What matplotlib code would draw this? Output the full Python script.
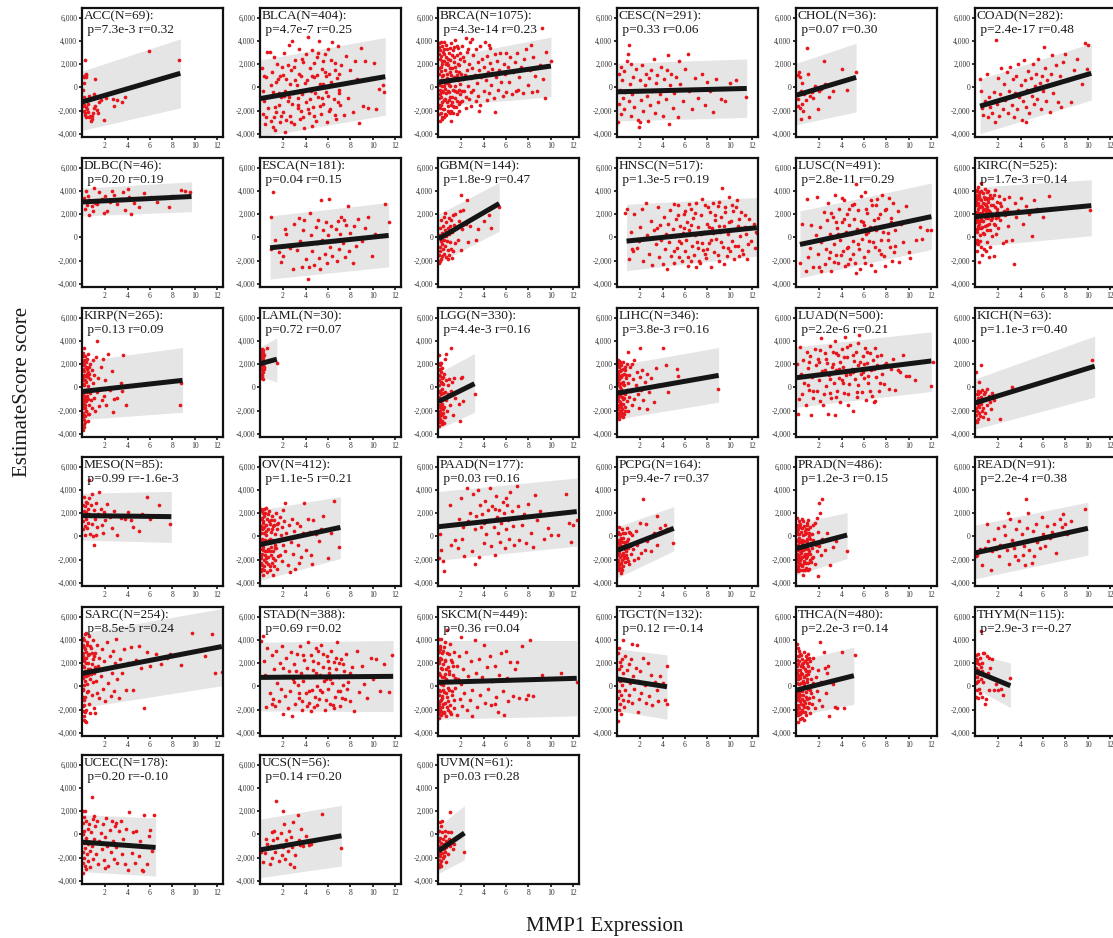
import matplotlib
matplotlib.use("Agg")
import matplotlib.pyplot as plt

# 33 cancer types, MMP1 expression vs EstimateScore
cancers = ["ACC", "BLCA", "BRCA", "CESC", "CHOL", "COAD",
           "DLBC", "ESCA", "GBM", "HNSC", "LUSC", "KIRC",
           "KIRP", "LAML", "LGG", "LIHC", "LUAD", "KICH",
           "MESO", "OV", "PAAD", "PCPG", "PRAD", "READ",
           "SARC", "STAD", "SKCM", "TGCT", "THCA", "THYM",
           "UCEC", "UCS", "UVM"]
n_samples = [69, 404, 1075, 291, 36, 282, 46, 181, 144, 517, 491, 525,
             265, 30, 330, 346, 500, 63, 85, 412, 177, 164, 486, 91,
             254, 388, 449, 132, 480, 115, 178, 56, 61]
p_vals = ["7.3e-3", "4.7e-7", "4.3e-14", "0.33", "0.07", "2.4e-17",
          "0.20", "0.04", "1.8e-9", "1.3e-5", "2.8e-11", "1.7e-3",
          "0.13", "0.72", "4.4e-3", "3.8e-3", "2.2e-6", "1.1e-3",
          "0.99", "1.1e-5", "0.03", "9.4e-7", "1.2e-3", "2.2e-4",
          "8.5e-5", "0.69", "0.36", "0.12", "2.2e-3", "2.9e-3",
          "0.20", "0.14", "0.03"]
r_vals = ["0.32", "0.25", "0.23", "0.06", "0.30", "0.48",
          "0.19", "0.15", "0.47", "0.19", "0.29", "0.14",
          "0.09", "0.07", "0.16", "0.16", "0.21", "0.40",
          "-1.6e-3", "0.21", "0.16", "0.37", "0.15", "0.38",
          "0.24", "0.02", "0.04", "-0.14", "0.14", "-0.27",
          "-0.10", "0.20", "0.28"]

# fitted line and prediction band at the two ends of each fit
fit_x0 = [0, 0, 0, 0, 0, 0.4, 0, 0.85, 0, 0.8, 0.3, 0,
          0, 0, 0, 0, 0, 0, 0, 0, 0, 0, 0, 0,
          0, 0, 0, 0, 0, 0, 0, 0, 0]
fit_x1 = [8.7, 11.1, 10.0, 11.5, 5.3, 10.3, 9.7, 11.4, 5.4, 12.4, 12.0, 10.3,
          8.9, 1.45, 3.2, 9.0, 12.0, 10.6, 7.9, 7.1, 12.3, 5.0, 4.5, 10.0,
          12.4, 11.8, 12.3, 4.4, 5.1, 3.1, 6.5, 7.2, 2.3]
fit_y0 = [-1250, -960, 450, -380, -670, -1620, 3070, -900, -120, -320, -610, 1800,
          -350, 2060, -1220, -490, 840, -1330, 1800, -700, 840, -1190, -1040, -1420,
          1130, 780, 350, 640, -320, 1300, -670, -1330, -1420]
fit_y1 = [1220, 930, 1850, -90, 870, 1220, 3540, 170, 2930, 840, 1800, 2750,
          610, 2440, 320, 1040, 2290, 1830, 1710, 780, 2150, 700, 120, 700,
          3450, 870, 700, -30, 930, 60, -1130, -120, 120]
band_lo0 = [-3710, -4290, -1650, -2900, -3220, -4000, 1860, -3600, -2200, -2870, -3500, -800,
            -2780, 950, -3600, -2730, -1710, -3600, -320, -3800, -2060, -3570, -3360, -3650,
            -1830, -2120, -2840, -2120, -2550, -200, -3220, -3740, -3360]
band_lo1 = [-1770, -2400, -810, -2600, -2120, -1100, 2230, -2550, 550, -1620, -1040, 150,
            -2150, 460, -2150, -1280, -350, -840, -520, -1910, -840, -1250, -1910, -1620,
            60, -2180, -2550, -2840, -1540, -1830, -3600, -2730, -2200]
band_hi0 = [1420, 2380, 2500, 2090, 2090, 725, 4260, 1860, 2000, 2870, 2290, 4350,
            2290, 3500, 1250, 1910, 3510, 750, 3740, 2290, 3890, 840, 1130, 990,
            4610, 3830, 3970, 3250, 2230, 2810, 1710, 1330, 700]
band_hi1 = [4200, 4320, 4350, 2460, 3830, 3830, 4810, 3020, 4760, 3450, 4700, 4990,
            3450, 4290, 2930, 3450, 4810, 4440, 3890, 3450, 5050, 2580, 2060, 2960,
            6730, 3970, 3970, 2730, 3390, 2030, 1420, 2520, 2490]

# samples (expression, score)
acc_pts = [(0.2,2380),(0.3,1150),(0.15,1000),(0.35,900),(0.1,400),(0.05,-250),(0.1,-800),(0.2,-1000),
           (0.15,-1500),(0.3,-1700),(0.1,-2000),(0.25,-2250),(0.4,-1850),(0.5,-2100),(0.3,-2550),(0.6,-2600),
           (0.8,-2750),(0.75,-2900),(0.85,-2450),(1.0,-1800),(1.1,-1600),(1.3,-1950),(1.5,-1300),(1.4,-2200),
           (1.9,-2850),(1.0,-550),(1.1,700),(1.6,-1050),(2.1,-900),(2.7,-1000),(2.8,-1650),(3.1,-1100),
           (3.5,-1250),(3.8,-850),(5.9,3190),(8.6,2380),(0.6,-700),(0.45,-1000),(0.2,-2350),(0.05,-1600),
           (0.5,-1400),(0.9,-2200),(0.1,900),(0.3,1050),(0.7,-2500)]
blca_pts = [(0.1,1700),(0.2,-300),(0.3,-1200),(0.2,-2300),(0.4,-3200),(0.5,900),(0.6,3100),(0.8,3100),
            (0.7,-1800),(0.9,-2900),(1.0,1300),(1.1,-400),(1.2,-2600),(1.3,-3700),(1.4,500),(1.5,2000),
            (1.6,-1500),(1.7,-3000),(1.8,-800),(1.9,1800),(2.0,-2100),(2.1,3000),(2.2,-3900),(2.3,700),
            (2.4,-1200),(2.5,3700),(2.6,-2500),(2.7,1500),(2.8,4000),(2.9,-500),(3.0,-3200),(3.1,2400),
            (3.2,200),(3.3,-1800),(3.4,3300),(3.5,-2700),(3.6,1000),(3.7,-600),(3.8,2200),(3.9,-3500),
            (4.0,-1300),(4.1,600),(4.2,4400),(4.3,-2200),(4.4,1700),(4.5,-300),(4.6,3200),(4.7,-1700),
            (4.8,900),(4.9,-2900),(5.0,2600),(5.1,-800),(5.2,4000),(5.3,300),(5.4,-2300),(5.5,1600),
            (5.6,-1400),(5.7,2900),(5.8,-400),(5.9,-3000),(6.0,3300),(6.1,1200),(6.2,-1900),(6.3,500),
            (6.4,3900),(6.5,-1000),(6.6,2100),(6.7,-2700),(6.8,800),(6.9,3600),(7.0,-200),(7.1,-1500),
            (7.2,1900),(7.4,-2400),(7.5,400),(7.6,2700),(7.8,-900),(8.0,1500),(8.2,-2100),(8.4,2300),
            (8.6,700),(8.8,-3100),(8.9,3400),(9.1,-1600),(9.3,2300),(9.6,-1800),(10.1,2100),(10.3,-1900),
            (10.5,-100),(10.9,200),(11.0,-400),(9.8,800),(0.5,-2600),(0.9,200),(1.2,2600),(1.6,-500),
            (2.0,1100),(2.3,-2800),(2.6,300),(3.0,1800),(3.3,-900),(3.6,-2000),(4.0,2900),(4.3,-100),
            (4.6,-3300),(5.0,1100),(5.3,-1600),(5.6,300),(6.0,-700),(6.3,2400),(6.6,-2400),(7.0,1200),
            (1.4,-2100),(2.8,-1400),(4.8,2100),(5.8,1000),(3.8,-2600),(1.1,-3400),(2.1,-700),(4.4,-1000),
            (6.9,-1300),(0.3,1000)]
blca_more = [(1.25,-1700),(1.55,700),(1.85,-2500),(2.15,-300),(2.45,1900),(2.75,-3000),(3.05,600),(3.35,-1500),
             (3.65,2500),(3.95,400),(4.25,-1900),(4.55,1000),(4.85,-500),(5.15,3000),(5.45,-900),(5.75,1300),
             (6.05,-2000),(6.35,200),(6.65,1500),(6.95,-500),(2.55,-800),(3.45,1200),(4.75,-2500),(5.55,2300),
             (1.75,1000)]
brca_pts = [(0.05,3800),(0.1,2500),(0.05,1200),(0.1,-200),(0.05,-1500),(0.1,-2900),(0.15,3200),(0.2,1800),
            (0.2,600),(0.25,-800),(0.2,-2200),(0.3,3600),(0.3,2300),(0.35,100),(0.3,-1300),(0.35,-2700),
            (0.4,1100),(0.45,2900),(0.4,-400),(0.5,-1900),(0.5,3300),(0.55,1500),(0.6,-1000),(0.6,400),
            (0.65,2600),(0.7,-2400),(0.7,3700),(0.75,800),(0.8,-300),(0.8,1900),(0.85,-1600),(0.9,3000),
            (0.9,200),(0.95,-2100),(1.0,1300),(1.0,-800),(1.05,2400),(1.1,3800),(1.1,-2900),(1.15,600),
            (1.2,-1300),(1.2,1700),(1.25,-200),(1.3,3200),(1.3,-2200),(1.35,900),(1.4,-1700),(1.4,2200),
            (1.45,100),(1.5,4100),(1.5,-900),(1.55,1400),(1.6,-2300),(1.6,2800),(1.65,-400),(1.7,600),
            (1.75,3400),(1.8,-1400),(1.8,1900),(1.85,-2000),(1.9,300),(1.9,2500),(1.95,-600),(2.0,1200),
            (0.15,-600),(0.25,1400),(0.45,-2600),(0.55,-100),(0.75,2100),(0.95,-1100),(1.15,-2000),(1.35,3500),
            (1.65,1100),(1.05,-2200),(2.1,3600),(2.1,-1200),(2.2,700),(2.3,2300),(2.3,-300),(2.4,-1800),
            (2.5,1500),(2.5,3100),(2.6,100),(2.7,-1000),(2.7,2000),(2.8,3900),(2.9,800),(2.9,-1600),
            (3.0,1700),(3.1,-200),(3.1,2800),(3.2,1100),(3.3,-1200),(3.3,3300),(3.4,400),(3.5,2200),
            (3.5,-700),(3.6,1500),(3.7,3600),(3.7,-1500),(3.8,900),(3.9,2500),(4.0,-300),(4.0,1800),
            (4.1,3900),(4.2,600),(4.3,-1100),(4.3,2700),(4.4,1300),(4.5,-500),(4.6,2100),(4.6,3400),
            (4.7,200),(4.8,1600),(4.9,-900),(5.0,2900),(5.0,-2100),(5.1,900),(5.2,2300),(5.3,-200),
            (5.4,1500),(5.5,3000),(5.6,500),(5.7,-700),(5.8,2000),(5.9,1200),(6.0,3000),(6.0,-400),
            (2.4,4300),(3.0,4200),(3.6,-2000),(4.5,3700),(6.2,1800),(6.3,500),(6.4,2600),(6.5,-600),
            (6.6,1300),(6.8,2200),(6.9,-300),(7.0,3000),(7.2,900),(7.3,1800),(7.5,-500),(7.6,2500),
            (7.8,3300),(8.0,200),(8.1,1500),(8.3,-400),(8.4,2600),(8.6,1000),(8.8,-300),(9.0,1900),
            (9.2,5100),(9.3,700),(9.5,-900),(9.6,3100),(10.0,2300),(8.2,3700),(7.1,-200)]
brca_more = [(0.02,2900),(0.02,500),(0.02,-2300),(0.08,3500),(0.08,1700),(0.08,-900),(0.12,200),(0.12,-1800),
             (0.18,2700),(0.18,-400),(0.22,3900),(0.22,-1500),(0.28,1000),(0.28,-2600),(0.32,2000),(0.32,-300),
             (0.38,3100),(0.38,-1900),(0.42,600),(0.48,2300),(0.48,-1100),(0.52,3900),(0.52,100),(0.58,-2300),
             (0.62,2000),(0.68,-500),(0.72,1200),(0.78,3300),(0.78,-1300),(0.82,400),(0.88,2500),(0.88,-2000),
             (0.92,-400),(0.98,1700),(1.02,3400),(1.02,100),(1.08,-1500),(1.12,1100),(1.18,2800),(1.22,-800),
             (1.28,700),(1.32,-1600),(1.38,2600),(1.42,-300),(1.48,1800),(1.52,-1700),(1.58,900),(1.62,3600),
             (1.68,-1200),(1.72,2000),(1.78,-200),(1.82,1300),(1.88,3000),(1.92,-1300),(2.05,-300),(2.15,2600),
             (2.35,1100),(2.45,-800),(2.65,3300),(2.85,-400)]
cesc_pts = [(0.0,-3000),(0.1,1200),(0.1,-1400),(0.2,-200),(0.3,1800),(0.3,-2300),(0.4,600),(0.5,-900),
            (0.6,1400),(0.6,-1900),(0.7,-400),(0.8,2300),(0.9,2900),(1.0,3700),(1.0,-1200),(1.1,300),
            (1.2,2000),(1.2,-2500),(1.3,-600),(1.4,900),(1.5,-1700),(1.6,1600),(1.7,-300),(1.8,-2800),
            (1.9,-3400),(2.0,600),(2.1,-1100),(2.2,1900),(2.3,-2000),(2.4,200),(2.5,1200),(2.6,-700),
            (2.7,-2900),(2.8,800),(2.9,-1500),(3.0,1500),(3.2,2500),(3.1,-300),(3.3,-2200),(3.4,400),
            (3.5,1100),(3.6,-1300),(3.8,-600),(3.9,1800),(4.0,-2500),(4.1,700),(4.3,-1000),(4.4,1500),
            (4.5,2800),(4.6,-3200),(4.7,200),(4.8,1200),(4.9,-1800),(5.0,-500),(5.2,900),(5.4,-2600),
            (5.6,300),(5.8,-1200),(6.0,1600),(6.3,2900),(6.4,-300),(6.6,-1900),(6.9,800),(7.2,-900),
            (7.5,1200),(7.8,-1500),(8.0,500),(8.2,-300),(8.5,-2100),(8.8,700),(9.2,-1000),(9.6,-1200),
            (10.0,400),(10.5,600),(11.4,-800),(5.5,2300),(2.0,-3000)]
chol_pts = [(0.1,-1000),(0.1,1100),(0.2,1300),(0.3,900),(0.2,-500),(0.3,-1800),(0.4,-2700),(0.5,-1400),
            (0.5,400),(0.6,-2000),(0.7,-600),(0.8,-1100),(0.9,3450),(1.0,1200),(1.1,-2600),(1.2,-700),
            (1.3,-200),(1.5,-900),(1.6,100),(1.9,-1900),(2.0,-300),(2.2,-100),(2.4,2300),(2.5,300),
            (2.9,-800),(3.2,-300),(4.0,1550),(4.5,-200),(5.3,1300),(0.1,-1600),(0.4,-300),(1.4,-400)]
coad_pts = [(0.4,700),(0.5,-300),(0.6,-1800),(0.7,-2400),(0.8,-1200),(1.0,1200),(1.1,-2600),(1.2,-800),
            (1.3,-1700),(1.5,-2200),(1.6,-400),(1.7,-3000),(1.8,4100),(1.9,-1400),(2.0,800),(2.1,-2500),
            (2.2,-600),(2.4,-1900),(2.5,300),(2.6,-1100),(2.8,1300),(2.9,-2200),(3.0,-300),(3.1,1800),
            (3.2,-1500),(3.3,700),(3.4,-2600),(3.5,-500),(3.6,1000),(3.7,-1900),(3.8,2000),(3.9,-800),
            (4.0,200),(4.1,-2800),(4.2,-1200),(4.3,2400),(4.4,600),(4.5,-1700),(4.6,-200),(4.7,1400),
            (4.8,-2200),(4.9,800),(5.0,-700),(5.1,2000),(5.2,-1400),(5.3,100),(5.4,1200),(5.5,-1000),
            (5.6,2500),(5.7,400),(5.8,-1900),(5.9,1000),(6.0,-300),(6.1,3500),(6.2,1700),(6.3,-1200),
            (6.4,600),(6.6,-2100),(6.7,1200),(6.8,2800),(6.9,-500),(7.0,300),(7.2,1900),(7.3,-1300),
            (7.5,1000),(7.6,-1700),(7.8,2200),(8.0,2900),(8.2,600),(8.5,-1300),(8.8,1500),(9.0,2500),
            (9.3,1000),(9.5,300),(9.7,3800),(10.0,3700),(9.9,1600),(2.3,1700),(4.5,-3000)]
dlbc_pts = [(0.1,3400),(0.2,2500),(0.3,4000),(0.4,2800),(0.5,3600),(0.6,1950),(0.6,3200),(0.8,2700),
            (1.0,4300),(1.1,3000),(1.3,2900),(1.5,3900),(1.7,3300),(1.9,2100),(2.0,3600),(2.2,2300),
            (2.4,3100),(2.6,4000),(2.8,3700),(3.1,2900),(3.4,3300),(3.8,2400),(4.0,4200),(4.1,3500),
            (4.3,2000),(4.6,3000),(5.0,2600),(5.5,3800),(6.1,3500),(6.6,3100),(7.7,2600),(8.0,3600),
            (8.8,4100),(9.1,4000),(9.6,3900),(0.9,2300),(3.6,3900)]
esca_pts = [(0.9,1800),(0.9,-1000),(1.1,3950),(1.3,-200),(1.6,-1300),(1.8,-2100),(2.0,-1600),(2.2,700),
            (2.3,300),(2.6,-900),(2.9,-2700),(3.0,1200),(3.2,-1100),(3.4,1700),(3.5,-300),(3.7,-2600),
            (3.8,600),(3.9,1500),(4.0,-1900),(4.1,-600),(4.2,-3600),(4.3,-2600),(4.4,2100),(4.5,200),
            (4.6,-1200),(4.8,-2400),(4.9,900),(5.0,-500),(5.1,1500),(5.2,-1800),(5.4,3250),(5.5,-200),
            (5.6,600),(5.7,-1400),(5.8,1300),(5.9,-2200),(6.0,200),(6.1,3300),(6.2,-800),(6.3,1000),
            (6.4,-1600),(6.6,-300),(6.7,700),(6.8,-2000),(6.9,1400),(7.0,-1000),(7.1,300),(7.2,1800),
            (7.3,-500),(7.5,-1700),(7.6,1100),(7.8,2750),(7.9,-1200),(8.0,400),(8.2,-2200),(8.3,1000),
            (8.5,-700),(8.7,1600),(9.0,-300),(9.3,800),(9.6,1800),(9.9,-1650),(10.2,300),(11.1,2900),
            (11.4,1300),(7.4,1500),(5.3,-2700)]
gbm_pts = [(0.0,-2200),(0.05,-1500),(0.1,-800),(0.05,200),(0.1,-1200),(0.15,800),(0.2,-300),(0.2,-1900),
           (0.25,1500),(0.3,-600),(0.3,400),(0.35,-1600),(0.4,1000),(0.4,-1000),(0.45,1800),(0.5,-200),
           (0.5,-1400),(0.55,600),(0.6,2100),(0.6,-700),(0.65,100),(0.7,-1700),(0.7,1300),(0.75,-300),
           (0.8,800),(0.85,-1100),(0.9,1700),(0.9,300),(0.95,-1500),(1.0,1000),(1.0,-400),(1.1,1500),
           (1.1,-1000),(1.2,500),(1.3,1900),(1.3,-1200),(1.4,1100),(1.5,-500),(1.5,2000),(1.6,900),
           (1.7,-200),(1.8,1400),(1.9,2300),(2.0,3700),(2.0,-1100),(2.1,700),(2.2,2400),(2.4,1200),
           (2.5,3200),(2.6,-400),(2.8,1000),(3.0,1600),(3.3,-200),(3.5,700),(4.0,1400),(4.5,1900),
           (4.7,800),(5.4,2600),(0.15,-2000),(0.35,-200),(0.8,-1900),(1.2,-1800)]
hnsc_pts = [(0.7,2100),(0.8,2500),(1.0,-1900),(1.2,500),(1.4,-1200),(1.5,2000),(1.7,-900),(1.9,-300),
            (2.0,900),(2.3,-2000),(2.5,3000),(2.6,200),(2.8,-1400),(3.0,1400),(3.1,-2400),(3.2,600),
            (3.4,-600),(3.6,2600),(3.7,-1700),(3.8,1100),(3.9,-200),(4.0,-2300),(2.2,2500),(1.3,-1000),
            (3.5,800),(4.1,1800),(4.2,-1000),(4.3,300),(4.4,-2700),(4.5,1200),(4.6,-400),(4.7,2400),
            (4.8,-1600),(4.9,700),(5.0,-2200),(5.1,100),(5.2,1600),(5.3,-900),(5.4,2800),(5.5,-300),
            (5.6,1000),(5.7,-2000),(5.8,400),(5.9,2000),(6.0,-1200),(6.1,-200),(6.2,1300),(6.3,-2500),
            (6.4,600),(6.5,2500),(6.6,-700),(6.7,1700),(6.8,-1500),(6.9,200),(7.0,3000),(7.1,-400),
            (7.2,900),(7.3,-2200),(7.4,1900),(7.5,3300),(7.6,-1100),(7.7,500),(7.8,2800),(7.9,-1800),
            (8.0,1200),(8.1,-500),(8.2,2200),(8.3,-2600),(8.4,800),(8.5,3000),(8.6,-1300),(8.7,1500),
            (8.8,-100),(8.9,2700),(9.0,-2000),(9.1,500),(9.2,1800),(9.3,4300),(9.4,-800),(9.5,1000),
            (9.6,2600),(9.7,-1600),(9.8,300),(9.9,3500),(10.0,-1200),(10.1,1400),(10.2,-300),(10.3,2300),
            (10.4,-1900),(10.5,700),(10.6,3200),(10.7,-700),(10.8,1600),(10.9,100),(11.0,2200),(11.2,-1400),
            (11.3,900),(11.5,-1900),(11.7,1600),(11.9,-300),(12.1,1200),(12.2,-900),(12.3,500),(12.4,400),
            (5.0,2900),(6.0,2300),(7.0,-2600),(8.0,-1000),(9.0,1000),(10.0,600),(5.5,-1700),(6.5,-2000),
            (7.5,-500),(8.5,400),(9.5,-2300),(10.5,2600)]
hnsc_more = [(5.05,-1200),(5.35,1900),(5.65,-500),(5.95,800),(6.25,-1700),(6.55,1100),(6.85,2100),(7.15,-900),
             (7.45,300),(7.75,-1400),(8.05,2600),(8.35,-200),(8.65,1900),(8.95,-1500),(9.25,-400),(9.55,2200),
             (9.85,-900),(10.15,2800),(10.45,-700),(10.75,1000),(11.05,-1100),(11.35,1900),(11.65,-600),(6.35,2900),
             (7.25,-2000),(8.15,900),(9.05,3100),(9.95,1300),(10.85,-1600),(11.45,300)]
lusc_pts = [(0.3,-2200),(0.5,1200),(0.8,-2900),(0.9,3300),(1.0,-1700),(1.2,-900),(1.3,1100),(1.5,-2600),
            (1.7,200),(1.8,3500),(1.9,-1400),(2.0,-2600),(2.1,900),(2.2,-400),(2.4,2200),(2.5,-2300),
            (2.6,-1000),(2.7,1500),(2.8,3000),(2.9,-1800),(3.0,300),(3.1,-2900),(3.2,1800),(3.3,-600),
            (3.4,3700),(3.5,-1500),(3.6,800),(3.7,-2200),(3.8,2500),(3.9,-200),(4.0,1300),(4.1,-1200),
            (4.2,3200),(4.3,-2500),(4.4,500),(4.5,2000),(4.6,-800),(4.7,1100),(4.8,-1900),(4.9,2800),
            (5.0,-300),(5.1,1600),(5.2,-2200),(5.3,4600),(5.3,-3100),(5.4,700),(5.5,2400),(5.6,-1000),
            (5.7,3600),(5.8,-100),(5.9,1300),(6.0,-1700),(6.1,3900),(6.2,300),(6.3,2100),(6.4,-1200),
            (6.5,900),(6.6,-2400),(6.7,2800),(6.8,-400),(6.9,1500),(7.0,-2900),(7.1,600),(7.2,3300),
            (7.3,-1100),(7.4,2000),(7.5,-200),(7.6,3700),(7.7,1000),(7.8,-1600),(7.9,-2500),(8.0,2500),
            (8.1,400),(8.3,-800),(8.4,1700),(8.6,3000),(8.7,-1300),(8.8,600),(9.0,2300),(9.1,-2100),
            (9.3,1200),(9.5,-400),(9.7,2700),(10.0,-1300),(10.1,-1800),(10.3,1500),(10.6,-200),(11.0,900),
            (11.2,-100),(11.6,600),(12.0,600),(6.0,1100),(4.5,-900),(3.0,-1300),(7.0,900),(8.5,-2000),
            (2.2,-2900)]
lusc_more = [(3.05,2100),(3.35,-2100),(3.65,300),(3.95,-1500),(4.25,1600),(4.55,-2300),(4.85,300),(5.15,2900),
             (5.45,-600),(5.75,1400),(6.05,-2200),(6.35,500),(6.65,3200),(6.95,-800),(7.25,1700),(7.55,-1400),
             (7.85,2400),(8.15,-200),(8.45,1300),(8.75,-700),(4.05,3400),(5.05,-1400),(6.15,2500),(7.05,2800),
             (3.55,1300),(4.65,2500),(5.65,-2700),(6.45,-300),(7.65,500),(8.25,3400)]
kirc_pts = [(0.0,4000),(0.0,1500),(0.05,2800),(0.05,-500),(0.1,3300),(0.1,2200),(0.1,700),(0.15,-1200),
            (0.15,1800),(0.2,4400),(0.2,2500),(0.2,1000),(0.25,3000),(0.25,-300),(0.3,-2100),(0.3,1900),
            (0.35,3600),(0.35,1200),(0.4,200),(0.4,2700),(0.45,4700),(0.45,1600),(0.5,3200),(0.5,-800),
            (0.55,2100),(0.6,-1500),(0.6,900),(0.65,3800),(0.7,2400),(0.7,1400),(0.75,300),(0.8,2900),
            (0.8,1800),(0.85,4200),(0.9,-1200),(0.9,2200),(0.95,3400),(1.0,1100),(1.0,2600),(1.05,-400),
            (1.1,4000),(1.1,1700),(1.15,3100),(1.2,-1700),(1.2,2300),(1.25,600),(1.3,3700),(1.35,1500),
            (1.4,2800),(1.45,100),(1.5,2000),(1.5,3400),(1.6,1200),(1.65,-1600),(1.7,2600),(1.75,4100),
            (1.8,1700),(1.85,300),(1.9,3100),(1.95,2200),(2.0,800),(2.1,3600),(2.2,1500),(2.3,2700),
            (2.4,-500),(2.5,3300),(2.6,1900),(2.7,-300),(2.8,2500),(2.9,1000),(3.0,3500),(3.1,2200),
            (3.2,-200),(3.4,-2300),(3.5,3000),(3.6,1800),(3.8,2400),(4.0,3400),(4.2,1200),(4.5,2700),
            (4.8,2000),(5.0,150),(5.2,3200),(5.5,2500),(6.0,1800),(6.5,3600),(10.2,2400),(0.1,-200),
            (0.3,3900),(0.55,2600),(0.75,-1000),(1.3,-800),(2.0,1800),(2.5,2300),(1.0,3900)]
kirc_more = [(0.02,3100),(0.02,2000),(0.02,600),(0.07,3700),(0.07,1300),(0.12,4100),(0.12,2900),(0.12,1600),
             (0.17,500),(0.17,3400),(0.22,2100),(0.22,-600),(0.27,3800),(0.27,1400),(0.32,2600),(0.32,800),
             (0.37,-300),(0.42,3300),(0.42,2100),(0.47,800),(0.52,2700),(0.52,4000),(0.57,1400),(0.62,3000),
             (0.62,2000),(0.67,400),(0.72,3500),(0.77,1900),(0.82,2500),(0.82,1000),(0.87,3300),(0.92,1700),
             (0.97,2800),(1.02,600),(1.07,3300),(1.12,2400),(1.17,1200),(1.22,3400),(1.32,2200),(1.42,1700),
             (1.55,2800),(1.65,3700),(1.75,1100),(1.9,2500),(2.2,3000)]
kirp_pts = [(0.0,-3700),(0.0,-1500),(0.0,600),(0.05,2300),(0.05,-400),(0.05,-2200),(0.1,3400),(0.1,1400),
            (0.1,-1000),(0.1,-2800),(0.15,200),(0.15,1900),(0.2,-1800),(0.2,2700),(0.2,-300),(0.25,1000),
            (0.25,-2500),(0.3,-1200),(0.3,2200),(0.35,500),(0.35,-2000),(0.4,1600),(0.4,-700),(0.45,-2900),
            (0.5,2900),(0.5,100),(0.55,-1500),(0.6,1200),(0.6,-2300),(0.65,-500),(0.7,2000),(0.7,700),
            (0.75,-1100),(0.8,1500),(0.85,-1800),(0.9,400),(0.95,2400),(1.0,-900),(1.0,1100),(1.1,-2000),
            (1.2,2600),(1.3,4000),(1.3,-400),(1.4,800),(1.5,-1600),(1.6,1800),(1.7,-1100),(1.8,2500),
            (1.9,-700),(2.0,600),(2.1,-1500),(2.3,2900),(2.4,-200),(2.6,1400),(2.7,-2100),(2.8,-1000),
            (3.1,-900),(3.5,-300),(3.6,2800),(3.9,-1550),(3.4,400),(8.8,400),(8.7,-1550),(0.15,-3200),
            (0.3,-200),(0.45,1300),(0.05,900),(0.25,-1500)]
kirp_more = [(0.02,-2600),(0.02,-500),(0.02,1600),(0.02,3000),(0.07,-1800),(0.07,300),(0.07,2000),(0.12,-2400),
             (0.12,-700),(0.12,1100),(0.17,-1400),(0.17,2400),(0.22,-3000),(0.22,600),(0.27,-900),(0.27,1800),
             (0.32,-2000),(0.32,1000),(0.37,-1000),(0.37,2500),(0.42,-400),(0.47,-2300),(0.47,900),(0.52,-1000),
             (0.57,1800),(0.02,-1200),(0.12,-3400),(0.07,2700),(0.22,-400),(0.42,1200)]
laml_pts = [(0.0,2400),(0.0,1800),(0.0,1200),(0.05,3100),(0.05,2700),(0.05,800),(0.1,2100),(0.1,1500),
            (0.1,3300),(0.1,1000),(0.15,2900),(0.15,1700),(0.15,2300),(0.2,700),(0.2,2600),(0.2,1900),
            (0.25,3000),(0.25,1300),(0.3,2200),(0.3,2800),(0.05,2000),(0.15,1100),(0.35,1600),(0.6,3400),
            (1.45,2100),(0.25,2400),(0.0,2900),(0.1,2500),(0.2,3200),(0.3,1800)]
lgg_pts = [(0.0,-3300),(0.0,-1500),(0.0,200),(0.05,2800),(0.05,-2600),(0.05,-800),(0.1,2100),(0.1,-2000),
           (0.1,1000),(0.1,-300),(0.15,-3000),(0.15,1600),(0.15,-1200),(0.2,500),(0.2,-2400),(0.2,-600),
           (0.25,1300),(0.25,-1800),(0.3,-100),(0.3,-2900),(0.35,800),(0.35,-1400),(0.4,-2200),(0.4,300),
           (0.45,-900),(0.5,1200),(0.5,-1700),(0.55,-400),(0.6,2500),(0.6,-2600),(0.65,600),(0.7,2900),
           (0.7,-1100),(0.75,-2000),(0.8,200),(0.85,-600),(0.9,700),(1.0,-1500),(1.1,3450),(1.1,-300),
           (1.2,500),(1.3,-2400),(1.4,800),(1.5,-900),(1.8,-1400),(1.9,-2900),(2.0,800),(2.1,900),
           (2.2,-1200),(3.2,-600),(0.3,1700),(0.45,-3100),(0.25,2100)]
lgg_more = [(0.02,-2300),(0.02,-400),(0.02,1100),(0.07,-1700),(0.07,-3000),(0.07,600),(0.12,-1000),(0.12,-2700),
            (0.17,-300),(0.17,1900),(0.22,-1500),(0.27,400),(0.27,-2300),(0.32,-1100),(0.37,-1900),(0.42,900),
            (0.42,-500),(0.47,-2600),(0.12,1500),(0.32,-3200)]
lihc_pts = [(0.0,-2600),(0.0,-800),(0.0,1200),(0.05,2400),(0.05,-1600),(0.05,300),(0.1,-2200),(0.1,1800),
            (0.1,-400),(0.15,700),(0.15,-1200),(0.2,2200),(0.2,-2000),(0.2,0),(0.25,1400),(0.25,-700),
            (0.3,-2500),(0.3,900),(0.35,-1400),(0.35,1900),(0.4,-300),(0.4,-1900),(0.45,500),(0.5,1600),
            (0.5,-1000),(0.55,-2300),(0.6,200),(0.6,1200),(0.65,-600),(0.7,-1700),(0.75,800),(0.8,2000),
            (0.8,-200),(0.85,-1200),(0.9,3100),(0.9,400),(0.95,-2000),(1.0,1100),(1.0,-800),(1.1,1800),
            (1.2,-300),(1.3,-1500),(1.4,700),(1.5,2400),(1.5,-1000),(1.6,200),(1.7,1300),(1.8,-600),
            (1.9,-1800),(2.0,3400),(2.0,900),(2.1,-200),(2.2,1500),(2.3,-1100),(2.4,500),(2.6,-1900),
            (2.6,1200),(2.8,-400),(3.0,800),(3.2,-1300),(3.4,1700),(3.6,200),(4.0,3400),(4.3,1900),
            (4.5,-400),(5.3,1600),(5.4,1000),(8.9,-100),(0.15,-2700),(0.45,2200),(0.65,1500),(1.25,2000),
            (0.3,-100)]
lihc_more = [(0.02,-1900),(0.02,500),(0.02,2000),(0.07,-1100),(0.07,900),(0.07,-2400),(0.12,-1500),(0.12,200),
             (0.17,1400),(0.17,-600),(0.22,-1300),(0.22,1000),(0.27,-2100),(0.27,400),(0.32,1500),(0.37,-800),
             (0.37,-2200),(0.42,1100),(0.47,-1400),(0.52,300),(0.57,-900),(0.62,1800),(0.67,-2000),(0.72,-300),
             (0.77,1100),(0.12,2300),(0.32,-1700),(0.52,-2600),(0.02,-300),(0.42,-500)]
luad_pts = [(0.0,2000),(0.1,-2300),(0.2,-1000),(0.3,3500),(0.4,1200),(0.5,-600),(0.6,2400),(0.7,400),
            (0.8,-1500),(0.9,3100),(1.0,1700),(1.1,-200),(1.2,2700),(1.3,-2400),(1.4,900),(1.5,-900),
            (1.6,3300),(1.7,1900),(1.8,-300),(1.9,2500),(2.0,600),(2.1,-1200),(2.2,4300),(2.3,1400),
            (2.4,-600),(2.5,3000),(2.6,100),(2.7,2100),(2.8,-2300),(2.9,1100),(3.0,3600),(3.1,-900),
            (3.2,2000),(3.3,400),(3.4,-2400),(3.4,4000),(3.5,1500),(3.6,-300),(3.7,2800),(3.8,800),
            (3.9,-1300),(4.0,3300),(4.1,1800),(4.2,-500),(4.3,4400),(4.4,1100),(4.5,2600),(4.6,-1500),
            (4.7,300),(4.8,3700),(4.9,1600),(5.0,-2000),(5.1,2300),(5.2,700),(5.3,3100),(5.4,-800),
            (5.5,1900),(5.6,4500),(5.7,1200),(5.8,-400),(5.9,2700),(6.0,800),(6.1,3400),(6.2,-1100),
            (6.3,2100),(6.4,400),(6.5,3000),(6.6,1500),(6.7,-700),(6.8,2400),(6.9,-1300),(7.0,3400),
            (7.1,900),(7.2,1900),(7.3,-300),(7.5,2800),(7.6,1200),(7.8,300),(8.0,2100),(8.2,-100),
            (8.4,1600),(8.6,2500),(8.8,-200),(9.0,1500),(9.2,1300),(9.5,2800),(9.7,1000),(10.0,1000),
            (10.5,600),(12.0,100),(12.1,2200),(1.0,200),(2.0,2200),(3.0,-500),(4.0,600),(5.0,1300),
            (6.0,2000),(7.0,-1200),(3.5,3000),(5.5,200)]
luad_more = [(1.15,2200),(1.45,-300),(1.75,1100),(2.05,3200),(2.35,-1500),(2.65,2500),(2.95,700),(3.25,3100),
             (3.55,-800),(3.85,2200),(4.15,400),(4.45,3500),(4.75,1200),(5.05,2800),(5.35,-400),(5.65,2200),
             (5.95,1300),(6.25,3100),(6.55,-300),(6.85,1600),(7.15,2700),(7.45,400),(7.75,1900),(2.55,1500),
             (3.75,1600),(4.55,-600),(5.45,3800),(6.35,1000),(4.25,2600),(3.15,1800)]
kich_pts = [(0.0,-2900),(0.0,-1800),(0.05,1300),(0.05,-2400),(0.1,-1200),(0.1,-3000),(0.15,-600),(0.15,-2000),
            (0.2,-1500),(0.2,-2700),(0.25,-300),(0.25,-900),(0.3,-2200),(0.3,-1700),(0.35,-1100),(0.4,-2500),
            (0.4,-400),(0.45,-1400),(0.5,1950),(0.5,-800),(0.55,-2000),(0.6,-200),(0.6,-1200),(0.7,-1800),
            (0.75,-600),(0.8,-2200),(0.9,-1000),(1.0,-1500),(1.0,-100),(1.1,-2700),(1.2,-700),(1.3,-1300),
            (1.4,-1900),(1.5,-500),(1.6,-1100),(2.2,-2700),(3.2,0),(10.4,2350),(0.3,500),(0.65,-2600),
            (0.85,-400),(0.2,-600)]
meso_pts = [(0.0,2700),(0.0,1300),(0.05,600),(0.1,2200),(0.1,3400),(0.15,1800),(0.2,900),(0.2,2600),
            (0.25,100),(0.3,1500),(0.3,3000),(0.35,2100),(0.4,700),(0.45,2400),(0.5,1200),(0.55,3300),
            (0.6,4900),(0.6,1900),(0.7,200),(0.75,2700),(0.8,3700),(0.85,1100),(0.9,0),(1.0,-750),
            (1.0,2300),(1.1,1500),(1.2,2900),(1.3,800),(1.4,1900),(1.5,3800),(1.6,2400),(1.7,1000),
            (1.8,300),(1.9,2100),(2.0,1400),(2.2,2800),(2.4,1700),(2.6,700),(2.8,2200),(3.1,150),
            (3.4,1600),(3.8,1500),(4.0,2100),(4.3,1400),(4.5,800),(5.0,500),(5.3,1900),(5.7,3400),
            (6.0,1500),(6.8,2700),(7.8,1100),(0.4,2900),(1.2,100)]
ov_pts = [(0.0,-3000),(0.0,-1700),(0.0,-400),(0.0,900),(0.05,2400),(0.05,-2300),(0.05,300),(0.1,-1100),
          (0.1,1600),(0.1,-2800),(0.15,-200),(0.15,-1500),(0.2,2000),(0.2,700),(0.2,-3300),(0.25,-900),
          (0.25,1200),(0.3,-2000),(0.3,300),(0.35,-2600),(0.35,1800),(0.4,-600),(0.4,-1300),(0.45,2500),
          (0.45,100),(0.5,-2200),(0.5,1000),(0.55,-400),(0.6,-3100),(0.6,1500),(0.65,-1100),(0.7,600),
          (0.7,-1800),(0.75,2200),(0.8,-200),(0.8,-2600),(0.85,1100),(0.9,-900),(0.9,-1600),(0.95,400),
          (1.0,1800),(1.0,-2300),(1.05,-300),(1.1,900),(1.1,-1300),(1.15,-3300),(1.2,1400),(1.25,-700),
          (1.3,200),(1.3,-2000),(1.35,2000),(1.4,-1000),(1.5,600),(1.5,-2800),(1.55,1200),(1.6,-400),
          (1.7,-1600),(1.7,1700),(1.8,100),(1.9,-2100),(1.9,800),(2.0,-700),(2.1,1300),(2.2,2900),
          (2.2,-1300),(2.3,300),(2.4,-2500),(2.5,1000),(2.6,-3100),(2.7,-500),(2.8,1500),(2.9,-1500),
          (3.0,500),(3.1,-2800),(3.2,1200),(3.3,-700),(3.5,900),(3.6,-1800),(3.8,300),(3.9,2900),
          (4.0,-1200),(4.2,1500),(4.4,400),(4.6,-2400),(4.7,1400),(4.9,200),(5.2,-400),(5.4,600),
          (5.6,1800),(6.0,-1900),(6.3,300),(6.5,3100),(6.9,700),(7.0,-900),(4.5,-1600),(3.4,-2300),
          (2.0,2300)]
ov_more = [(0.02,-2400),(0.02,1500),(0.07,-700),(0.07,-1900),(0.12,600),(0.12,2200),(0.17,-2500),(0.22,-1200),
           (0.22,1300),(0.27,-300),(0.32,-2900),(0.32,800),(0.37,-1600),(0.42,2000),(0.42,-300),(0.47,-1900),
           (0.52,500),(0.57,-1300),(0.62,1900),(0.67,-2400),(0.72,-300),(0.77,1300),(0.82,-1300),(0.87,-2900),
           (0.92,1400),(0.97,-500),(1.02,600),(1.07,-1900),(1.17,1000),(1.22,-2600),(1.32,-1000),(1.42,1100),
           (1.52,-1700),(0.27,2400),(0.62,-600)]
paad_pts = [(0.0,-1900),(0.1,200),(0.2,-1200),(0.4,-2100),(0.5,-3000),(1.0,2700),(1.1,-700),(1.5,-300),
            (1.7,-1000),(1.8,1500),(2.0,3300),(2.1,-200),(2.2,800),(2.3,-1700),(2.5,4200),(2.6,1300),
            (2.8,2000),(3.0,-1300),(3.1,3700),(3.2,-2400),(3.2,600),(3.3,1800),(3.5,4000),(3.6,-1800),
            (3.7,2700),(3.8,800),(3.9,1900),(4.0,-600),(4.1,3100),(4.2,200),(4.4,2300),(4.5,1400),
            (4.6,4200),(4.7,-800),(4.8,2600),(4.9,800),(5.0,-1600),(5.1,3500),(5.2,1700),(5.3,300),
            (5.4,2300),(5.5,-500),(5.6,1200),(5.7,3000),(5.8,2000),(5.9,-1000),(6.0,600),(6.1,2700),
            (6.2,1400),(6.3,-200),(6.4,3800),(6.5,2200),(6.6,900),(6.7,-700),(6.8,1600),(7.0,4400),
            (7.1,2600),(7.2,-300),(7.4,1000),(7.6,1900),(7.8,-600),(8.0,2800),(8.2,300),(8.4,-900),
            (8.6,3600),(8.8,1400),(9.0,2200),(9.4,-200),(9.7,700),(10.0,100),(10.6,100),(11.3,3700),
            (11.6,1200),(11.8,-500),(12.0,1000),(12.3,1400),(5.0,2400),(6.0,3300),(4.0,1200)]
pcpg_pts = [(0.0,-2200),(0.0,-900),(0.05,400),(0.05,-1600),(0.1,-2900),(0.1,-300),(0.15,-1200),(0.15,800),
            (0.2,-2400),(0.2,-700),(0.25,-1800),(0.25,200),(0.3,-3200),(0.3,-1100),(0.35,-400),(0.4,-2000),
            (0.4,600),(0.45,-1400),(0.5,-2600),(0.5,-100),(0.55,-900),(0.6,-1700),(0.65,300),(0.7,-2200),
            (0.7,-600),(0.75,-1300),(0.8,700),(0.85,-1900),(0.9,-200),(0.95,-1000),(1.0,-2400),(1.0,400),
            (1.1,-800),(1.2,-1500),(1.3,100),(1.4,-1100),(1.5,-2000),(1.6,500),(1.7,-700),(1.8,-1900),
            (2.0,1200),(2.1,-1400),(2.3,3200),(2.4,-1200),(2.5,1100),(2.6,-400),(2.8,-100),(3.0,-1300),
            (3.2,300),(3.5,1800),(3.5,-700),(3.8,700),(4.2,1000),(4.4,600),(4.9,-550),(0.35,-2700),
            (0.6,-500),(1.15,300)]
pcpg_more = [(0.02,-1500),(0.02,-2700),(0.07,-600),(0.07,-2000),(0.12,200),(0.12,-1400),(0.17,-2500),(0.22,-1000),
             (0.27,-2300),(0.32,-500),(0.37,-1600),(0.42,-2900),(0.47,-800),(0.52,300),(0.57,-1900),(0.62,-1100),
             (0.72,-1600),(0.82,-400),(0.92,-2100),(0.27,-100)]
prad_pts = [(0.0,-2800),(0.0,-1500),(0.0,-300),(0.0,1000),(0.05,1600),(0.05,-2200),(0.05,-800),(0.1,200),
            (0.1,-1900),(0.1,-3000),(0.15,-1200),(0.15,600),(0.2,-2500),(0.2,-500),(0.2,1300),(0.25,-1600),
            (0.25,-100),(0.3,-2900),(0.3,800),(0.35,-1000),(0.35,-2000),(0.4,400),(0.4,-1400),(0.45,1500),
            (0.45,-2600),(0.5,-600),(0.5,-1800),(0.55,100),(0.6,-1200),(0.6,-3300),(0.65,900),(0.7,-2100),
            (0.7,-400),(0.75,-1500),(0.8,300),(0.8,-2700),(0.85,-900),(0.9,1200),(0.9,-1700),(0.95,-200),
            (1.0,-2300),(1.0,600),(1.05,-1100),(1.1,-2800),(1.15,0),(1.2,-1500),(1.2,800),(1.25,-600),
            (1.3,-2200),(1.35,200),(1.4,-1000),(1.45,1000),(1.5,-1800),(1.5,-300),(1.6,1200),(1.6,-2400),
            (1.7,-700),(1.8,1600),(1.8,-1300),(1.9,-3400),(1.9,400),(2.0,2900),(2.0,-800),(2.1,2000),
            (2.2,-1600),(2.3,3200),(2.3,-200),(2.5,-1200),(2.7,300),(3.0,-2500),(3.2,-900),(3.5,-400),
            (4.5,-1300),(0.15,-2700),(0.3,-1300),(0.45,-300),(0.65,-1700),(0.85,-2300),(1.05,1400),(0.25,1000),
            (0.55,-2900),(0.75,500),(1.35,-1900),(0.1,-700)]
prad_more = [(0.02,-2000),(0.02,500),(0.07,-1200),(0.07,-2600),(0.12,900),(0.12,-400),(0.17,-1800),(0.22,-2200),
             (0.22,200),(0.27,-900),(0.32,-2400),(0.32,1100),(0.37,-400),(0.42,-1900),(0.47,700),(0.52,-1200),
             (0.52,-2500),(0.57,1300),(0.62,-800),(0.67,-2300),(0.72,200),(0.77,-1100),(0.82,-1900),(0.87,600),
             (0.92,-500),(0.97,-1500),(1.02,-2900),(1.07,300),(1.12,-1300),(1.17,-2000),(1.22,-200),(0.12,-2200),
             (0.42,-900),(0.72,-2900),(0.97,1000)]
read_pts = [(0.0,-1700),(0.1,-1600),(0.4,-1100),(0.6,-2500),(0.8,-1000),(1.0,1100),(1.1,-400),(1.2,-1200),
            (1.4,-2900),(1.5,-1300),(1.6,-200),(1.8,-1100),(2.0,700),(2.1,-1700),(2.2,-700),(2.5,900),
            (2.6,100),(2.8,-1200),(2.9,2000),(3.0,-2400),(3.1,1500),(3.2,-300),(3.4,-1000),(3.5,-1700),
            (3.6,600),(3.8,-2000),(3.9,1300),(4.0,-600),(4.1,200),(4.2,-1600),(4.3,-800),(4.4,-2500),
            (4.5,3200),(4.6,700),(4.7,2000),(4.8,-1200),(4.9,-300),(5.0,-2300),(5.1,500),(5.2,-1700),
            (5.4,1100),(5.5,-500),(5.7,-1000),(5.9,1700),(6.0,200),(6.2,-800),(6.4,900),(6.6,-100),
            (6.8,400),(7.0,1100),(7.2,-1400),(7.5,1500),(7.7,800),(7.8,1900),(8.0,1100),(8.1,200),
            (8.5,1300),(9.7,2400)]
sarc_pts = [(0.0,-1100),(0.0,900),(0.0,2600),(0.05,4200),(0.05,-300),(0.05,-2100),(0.1,3400),(0.1,1700),
            (0.1,100),(0.1,-1600),(0.15,-2600),(0.15,2200),(0.2,4500),(0.2,500),(0.2,-3000),(0.25,1300),
            (0.25,-900),(0.3,3000),(0.3,-2000),(0.35,-3100),(0.35,2500),(0.4,200),(0.4,3800),(0.45,1000),
            (0.5,-400),(0.5,2000),(0.55,4400),(0.6,-1500),(0.6,2800),(0.65,1500),(0.7,-2300),(0.7,600),
            (0.75,3300),(0.8,1900),(0.85,-700),(0.9,2400),(0.9,4000),(1.0,1200),(1.0,-1900),(1.1,-2300),
            (1.1,2900),(1.2,500),(1.3,3600),(1.3,-600),(1.4,1800),(1.5,2500),(1.5,-1000),(1.6,900),
            (1.7,3200),(1.8,-200),(1.9,2200),(2.0,-1300),(2.1,1500),(2.2,3800),(2.3,300),(2.4,2600),
            (2.5,-800),(2.6,1200),(2.7,3100),(2.8,-400),(2.9,2000),(3.0,4100),(3.1,600),(3.2,-1000),
            (3.3,2400),(3.5,1200),(3.7,3200),(3.9,-300),(4.0,2000),(4.3,3400),(4.5,-300),(4.8,2300),
            (5.0,3500),(5.2,1600),(5.5,-1850),(5.7,3000),(6.0,1800),(6.5,2800),(7.0,1900),(7.5,2500),
            (7.8,2800),(8.8,1850),(9.7,4600),(10.9,2650),(11.5,4500),(11.8,1200),(12.4,1250),(0.3,4600),
            (0.1,-2900)]
sarc_more = [(0.02,3600),(0.02,1800),(0.02,-200),(0.02,-1700),(0.07,2900),(0.07,700),(0.07,-900),(0.12,4000),
             (0.12,2400),(0.17,1200),(0.17,-1200),(0.22,3200),(0.27,2000),(0.32,900),(0.37,3600),(0.42,-500),
             (0.47,2700),(0.52,1500),(0.62,3500),(0.72,1100),(0.82,2900),(0.92,400),(1.02,2600),(1.12,1700),
             (0.22,-2200)]
stad_pts = [(0.0,3900),(0.2,4400),(0.3,2200),(0.4,1000),(0.5,-1800),(0.6,3300),(0.8,-600),(1.0,2700),
            (1.1,-1100),(1.2,1500),(1.3,-1700),(1.4,3100),(1.5,300),(1.6,-1300),(1.7,2000),(1.8,-200),
            (1.9,3500),(2.0,-2400),(2.1,900),(2.2,-800),(2.3,2500),(2.4,-1900),(2.5,1300),(2.6,-400),
            (2.7,3000),(2.8,-2600),(2.9,600),(3.0,1900),(3.1,-1500),(3.2,2800),(3.3,100),(3.4,-1000),
            (3.5,3500),(3.6,1200),(3.7,-2000),(3.8,500),(3.9,2300),(4.0,-600),(4.1,1600),(4.2,3800),
            (4.3,-1400),(4.4,800),(4.5,2700),(4.6,-300),(4.7,1400),(4.8,-1800),(4.9,3300),(5.0,0),
            (5.1,2000),(5.2,-1100),(5.3,1000),(5.4,3600),(5.5,-500),(5.6,1700),(5.7,-2000),(5.8,600),
            (5.9,2600),(6.0,-200),(6.1,1200),(6.2,-1500),(6.3,3100),(6.4,300),(6.5,2100),(6.6,-900),
            (6.7,1500),(6.8,3800),(6.9,-400),(7.0,800),(7.1,-1700),(7.2,2400),(7.3,100),(7.4,1300),
            (7.5,-1100),(7.6,2800),(7.8,400),(8.0,-1300),(8.1,1700),(8.3,-2100),(8.5,900),(8.6,3100),
            (8.8,-500),(9.0,1800),(9.2,200),(9.5,-1000),(9.8,2500),(10.0,600),(10.3,2400),(10.6,-400),
            (11.0,1900),(11.4,-500),(11.7,2700),(4.5,-2100),(6.0,2200),(5.0,-1600),(3.0,400),(7.0,2000),
            (1.0,-1500),(2.0,1600)]
stad_more = [(3.15,1300),(3.45,-600),(3.75,2700),(4.05,900),(4.35,-400),(4.65,2200),(4.95,1200),(5.25,-300),
             (5.55,2800),(5.85,-1200),(6.15,600),(6.45,-1600),(6.75,2500),(7.05,-400),(7.35,1900),(7.65,-200),
             (7.95,1200),(4.15,-1700),(5.15,3100),(6.05,1600),(6.55,-1900),(5.65,500),(4.85,-900),(7.25,-1000),
             (3.65,-1300)]
skcm_pts = [(0.0,4100),(0.0,2000),(0.0,-700),(0.0,-2700),(0.05,1200),(0.05,-1500),(0.1,3200),(0.1,300),
            (0.1,-2100),(0.15,2500),(0.15,-400),(0.2,-1200),(0.2,1600),(0.25,4100),(0.25,-2500),(0.3,800),
            (0.3,-800),(0.35,2900),(0.35,-1800),(0.4,100),(0.4,1900),(0.45,-2200),(0.5,3400),(0.5,-500),
            (0.55,1100),(0.6,-1400),(0.6,2300),(0.65,-2600),(0.7,600),(0.75,4900),(0.75,-900),(0.8,1700),
            (0.85,-2000),(0.9,2800),(0.9,-300),(0.95,1300),(1.0,-1600),(1.0,3700),(1.1,400),(1.1,-2400),
            (1.2,2100),(1.2,-700),(1.3,1000),(1.4,-1900),(1.4,3000),(1.5,-100),(1.6,1800),(1.6,-2500),
            (1.7,600),(1.8,2600),(1.9,-1100),(2.0,4300),(2.0,200),(2.1,-1700),(2.2,1500),(2.3,-600),
            (2.4,3000),(2.5,-2000),(2.6,900),(2.8,-1200),(2.9,2200),(3.0,-300),(3.2,4000),(3.3,1200),
            (3.4,-1800),(3.6,2400),(3.7,-700),(3.9,800),(4.0,3600),(4.1,-1400),(4.3,1700),(4.4,-200),
            (4.6,2600),(4.7,-1600),(4.8,500),(5.0,1800),(5.1,-900),(5.3,-2200),(5.4,1000),(5.6,2900),
            (5.7,-400),(5.8,-2500),(6.0,3100),(6.1,700),(6.2,-1300),(6.4,2100),(6.6,-800),(6.8,1500),
            (7.0,2100),(7.2,-1000),(7.4,3500),(7.5,600),(7.8,-1100),(8.0,-700),(8.1,4000),(8.4,-800),
            (9.2,1000),(10.9,1200),(12.3,400),(3.0,-2600),(5.0,-1500)]
skcm_more = [(0.02,3000),(0.02,500),(0.02,-1800),(0.07,2200),(0.07,-300),(0.07,-2400),(0.12,1000),(0.12,-1300),
             (0.17,3500),(0.17,-2000),(0.22,200),(0.22,2400),(0.27,-1000),(0.32,1500),(0.32,-2200),(0.37,-300),
             (0.42,3100),(0.42,-1500),(0.47,800),(0.52,-2300),(0.57,2200),(0.62,-600),(0.67,1500),(0.72,-1800),
             (0.77,2900),(0.82,-100),(0.87,-1300),(0.92,1100),(1.02,-2200),(1.07,2300),(1.17,-400),(1.27,1800),
             (1.37,-1200),(1.47,700),(0.55,3800)]
tgct_pts = [(0.0,-3000),(0.0,-1000),(0.05,2900),(0.05,700),(0.1,3300),(0.1,-2000),(0.15,1500),(0.15,-400),
            (0.2,2100),(0.2,-1500),(0.25,500),(0.3,-2400),(0.3,1800),(0.35,-700),(0.4,2400),(0.4,100),
            (0.45,-1200),(0.5,4000),(0.5,1200),(0.6,-1800),(0.6,600),(0.7,2600),(0.7,-300),(0.8,1400),
            (0.9,-1300),(1.0,1900),(1.0,-700),(1.1,300),(1.2,2400),(1.3,3700),(1.3,-1400),(1.4,900),
            (1.5,-200),(1.6,1600),(1.7,3600),(1.8,-2200),(1.8,500),(1.9,-1100),(2.0,1300),(2.1,-600),
            (2.3,2500),(2.4,100),(2.5,-1400),(2.7,2000),(2.8,-800),(3.0,1000),(3.1,-1600),(3.3,400),
            (3.5,-300),(3.6,-1300),(3.8,900),(4.0,300),(4.2,-1200),(4.4,1800),(4.4,-1500)]
thca_pts = [(0.0,-2500),(0.0,-1200),(0.0,300),(0.0,1800),(0.05,3700),(0.05,-600),(0.05,-2000),(0.1,2600),
            (0.1,900),(0.1,-300),(0.1,-1600),(0.15,-2500),(0.15,1400),(0.2,3100),(0.2,-900),(0.2,200),
            (0.25,-1900),(0.25,2200),(0.3,700),(0.3,-1300),(0.35,2800),(0.35,-2400),(0.4,-200),(0.4,1200),
            (0.45,-1100),(0.5,2400),(0.5,-2200),(0.55,500),(0.6,-700),(0.6,1700),(0.65,-1800),(0.7,3000),
            (0.7,0),(0.75,-1400),(0.8,1000),(0.8,-2500),(0.85,-500),(0.9,2000),(0.9,-1100),(0.95,400),
            (1.0,2800),(1.0,-1900),(1.05,-200),(1.1,1300),(1.15,-1000),(1.2,2200),(1.2,-2300),(1.25,600),
            (1.3,-600),(1.35,1600),(1.4,-1500),(1.45,300),(1.5,2500),(1.5,-900),(1.6,-1900),(1.7,800),
            (1.8,-400),(1.9,1400),(2.0,-1200),(2.1,3850),(2.2,400),(2.3,-1700),(2.4,3000),(2.5,1600),
            (2.6,-600),(2.7,1200),(2.8,1800),(2.9,-2550),(3.0,400),(3.2,200),(3.4,-1800),(3.6,-1900),
            (4.0,2950),(4.2,-1850),(5.2,2700),(0.15,-3100),(0.25,-400),(0.45,1900),(0.65,-2900),(0.85,2600),
            (1.05,1100),(0.3,-2800),(0.55,-1600),(0.75,1500)]
thca_more = [(0.02,2300),(0.02,-800),(0.02,-1900),(0.07,1200),(0.07,-200),(0.07,-2300),(0.12,3300),(0.12,-1100),
             (0.17,600),(0.17,-1700),(0.22,2600),(0.22,-500),(0.27,1000),(0.27,-2200),(0.32,-700),(0.37,1800),
             (0.37,-1500),(0.42,300),(0.42,2700),(0.47,-2000),(0.52,1100),(0.52,-400),(0.57,2000),(0.62,-1300),
             (0.67,800),(0.72,-2200),(0.77,2200),(0.82,-900),(0.87,1300),(0.92,-1800),(0.97,600),(1.02,1800),
             (1.07,-1400),(1.12,2500),(1.17,-300),(0.12,1900),(0.32,1400),(0.62,300),(0.92,2400),(0.47,-2700)]
thym_pts = [(0.0,2400),(0.0,1200),(0.0,300),(0.05,2700),(0.05,1600),(0.05,-900),(0.1,2000),(0.1,800),
            (0.15,2300),(0.15,-300),(0.2,1400),(0.2,2800),(0.25,500),(0.3,1900),(0.3,-200),(0.35,1100),
            (0.4,2500),(0.4,-600),(0.45,1700),(0.5,4800),(0.5,600),(0.55,2000),(0.6,-900),(0.6,1300),
            (0.65,2900),(0.7,400),(0.75,2900),(0.8,-1500),(0.85,1000),(0.9,-1100),(1.0,2600),(1.1,1200),
            (1.2,2500),(1.2,-300),(1.3,1600),(1.5,2400),(1.6,-300),(1.8,200),(2.0,-300),(2.3,-200),
            (2.4,-700),(2.5,300),(3.1,700),(0.25,-1000),(0.1,400)]
ucec_pts = [(0.0,-3300),(0.0,-1500),(0.0,0),(0.0,2000),(0.05,-2500),(0.05,1000),(0.1,-700),(0.1,1500),
            (0.15,-2000),(0.15,300),(0.2,-1200),(0.25,2000),(0.25,-2700),(0.3,-300),(0.35,1200),(0.4,-1700),
            (0.45,500),(0.5,-2300),(0.5,-800),(0.6,900),(0.65,-1400),(0.7,-2800),(0.75,200),(0.8,3200),
            (0.85,-1000),(0.9,1300),(0.95,-2100),(1.0,-400),(1.1,700),(1.2,-1700),(1.3,1200),(1.4,-2600),
            (1.5,-600),(1.6,100),(1.7,-1300),(1.8,900),(1.9,-2200),(2.0,-200),(2.1,1400),(2.2,-1000),
            (2.3,-2700),(2.4,400),(2.5,-1500),(2.6,1200),(2.7,-600),(2.8,-2100),(2.9,700),(3.0,-1100),
            (3.1,-2500),(3.2,300),(3.4,1200),(3.5,-1700),(3.6,-400),(3.8,-2600),(3.9,500),(4.0,-3100),
            (4.1,1900),(4.2,-900),(4.4,-1600),(4.5,200),(4.7,-2500),(4.8,300),(5.0,-1900),(5.1,-600),
            (5.3,-3100),(5.4,-3150),(5.5,1700),(5.7,-2600),(5.9,-100),(6.0,400),(6.2,-1400),(6.4,1700),
            (0.3,-3000),(1.0,1600),(2.0,-2900),(3.0,1000)]
ucs_pts = [(0.0,-1500),(0.1,-1300),(0.2,-2400),(0.4,-1600),(0.6,-800),(0.8,-2600),(0.9,-1000),(1.0,200),
           (1.0,-2000),(1.1,-500),(1.3,-1500),(1.4,2850),(1.5,-300),(1.6,-2300),(1.7,-900),(1.8,100),
           (1.9,-1800),(2.0,2000),(2.0,-1100),(2.1,900),(2.2,-2100),(2.3,-500),(2.4,-1400),(2.5,300),
           (2.6,-2600),(2.8,-1100),(2.9,1100),(3.0,-2800),(3.1,-1800),(3.3,1700),(3.4,-500),(3.5,-900),
           (3.6,500),(3.8,-1000),(4.0,-100),(4.3,-900),(4.5,-800),(4.8,-600),(5.5,1800),(7.2,-1200),
           (0.5,-400),(1.2,300),(2.7,-200)]
uvm_pts = [(0.0,-2800),(0.0,-1700),(0.0,-600),(0.05,-2200),(0.05,-1000),(0.05,300),(0.1,-2600),(0.1,-1400),
           (0.1,1100),(0.15,-1900),(0.15,-300),(0.2,-1200),(0.2,700),(0.25,-2300),(0.25,-700),(0.3,-1600),
           (0.3,200),(0.35,-1100),(0.4,-2000),(0.4,-400),(0.45,-1300),(0.5,-800),(0.5,-1900),(0.55,300),
           (0.6,-1500),(0.65,-600),(0.7,-2400),(0.7,-1100),(0.8,200),(0.85,-1700),(0.9,-400),(1.0,1900),
           (1.0,-1000),(1.1,200),(1.2,-700),(1.3,-1300),(1.4,-800),(1.6,-200),(2.3,-1500),(0.2,-2700),
           (0.35,1200),(0.6,-100)]

points = [acc_pts, blca_pts + blca_more, brca_pts + brca_more, cesc_pts, chol_pts, coad_pts,
          dlbc_pts, esca_pts, gbm_pts, hnsc_pts + hnsc_more, lusc_pts + lusc_more, kirc_pts + kirc_more,
          kirp_pts + kirp_more, laml_pts, lgg_pts + lgg_more, lihc_pts + lihc_more, luad_pts + luad_more, kich_pts,
          meso_pts, ov_pts + ov_more, paad_pts, pcpg_pts + pcpg_more, prad_pts + prad_more, read_pts,
          sarc_pts + sarc_more, stad_pts + stad_more, skcm_pts + skcm_more, tgct_pts, thca_pts + thca_more, thym_pts,
          ucec_pts, ucs_pts, uvm_pts]

y_ticks = [-4000, -2000, 0, 2000, 4000, 6000]
x_ticks = [2, 4, 6, 8, 10, 12]

plt.rcParams['font.family'] = ['Liberation Serif', 'DejaVu Serif']

FW, FH = 1113, 938
fig = plt.figure(figsize=(FW / 100, FH / 100), dpi=100)

# panel grid in pixels (last column runs off the right edge, as in the original)
col_left = [82, 260, 438, 617, 796, 975]
row_top = [8, 158, 308, 457, 607, 755]
pw, ph = 141, 129

for i, name in enumerate(cancers):
    r, c = divmod(i, 6)
    ax = fig.add_axes([col_left[c] / FW, 1 - (row_top[r] + ph) / FH, pw / FW, ph / FH])
    xs = [p[0] for p in points[i]]
    ys = [p[1] for p in points[i]]
    ax.fill_between([fit_x0[i], fit_x1[i]], [band_lo0[i], band_lo1[i]],
                    [band_hi0[i], band_hi1[i]], color='#e5e5e5', lw=0, zorder=1)
    ax.scatter(xs, ys, s=7, color='#e8161c', linewidths=0, zorder=2)
    ax.plot([fit_x0[i], fit_x1[i]], [fit_y0[i], fit_y1[i]], color='#151515',
            lw=3.6, solid_capstyle='butt', zorder=3)
    ax.set_xlim(-0.05, 12.5)
    ax.set_ylim(-4290, 6870)
    ax.set_xticks(x_ticks)
    ax.set_xticklabels([str(t) for t in x_ticks])
    ax.set_yticks(y_ticks)
    ax.set_yticklabels([f"{t:,}" for t in y_ticks])
    ax.tick_params(labelsize=5.5, length=2.2, width=1.2, pad=1.2, colors='#111111',
                   labelcolor='#333333')
    for sp in ax.spines.values():
        sp.set_linewidth(1.6)
        sp.set_color('#111111')
    ax.text(0.012, 0.985, f"{name}(N={n_samples[i]}):\n p={p_vals[i]} r={r_vals[i]}",
            transform=ax.transAxes, ha='left', va='top', fontsize=9.6,
            color='#1a1a1a', linespacing=1.2, zorder=5)

fig.text(23 / FW, 1 - 392 / FH, "EstimateScore score", rotation=90,
         ha='center', va='center', fontsize=15, color='#1a1a1a')
fig.text(605 / FW, 1 - 926 / FH, "MMP1 Expression", ha='center', va='center',
         fontsize=15, color='#1a1a1a')

fig.savefig("out.png", dpi=100)
